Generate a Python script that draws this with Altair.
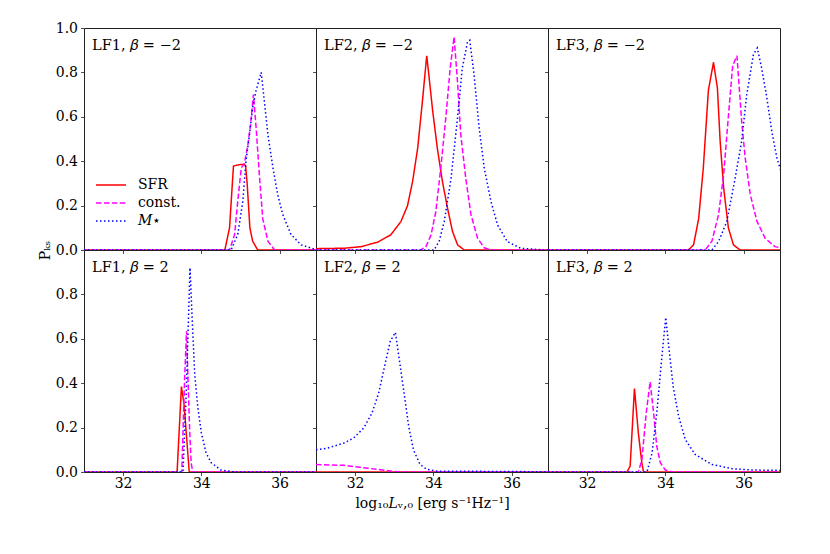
import altair as alt
import pandas as pd

SERIES = ["SFR", "const.", "𝑀⋆"]
COLORS = ["#ff0000", "#ff00ff", "#0000ff"]
DASHES = [[1, 0], [5.5, 2.4], [1.5, 2.5]]

PANEL_LABELS = ["LF1, 𝛽 = −2", "LF2, 𝛽 = −2", "LF3, 𝛽 = −2",
                "LF1, 𝛽 = 2", "LF2, 𝛽 = 2", "LF3, 𝛽 = 2"]

X_TITLE = "log₁₀𝐿ᵥ,₀ [erg s⁻¹Hz⁻¹]"
Y_TITLE = "Pₖₛ"
X_TICKS = [32, 34, 36]
Y_TICKS_TOP = [0.0, 0.2, 0.4, 0.6, 0.8, 1.0]
Y_TICKS_BOTTOM = [0.0, 0.2, 0.4, 0.6, 0.8]
X_DOMAIN = [31, 36.93]

# ---- LF1, beta = -2
lf1_m2_sfr_x = [31.0, 34.6, 34.72, 34.82, 34.9, 35.0, 35.1, 35.13, 35.17, 35.24, 35.31, 35.44, 37.0]
lf1_m2_sfr_y = [0, 0, 0.1, 0.378, 0.382, 0.385, 0.385, 0.38, 0.3, 0.1, 0.04, 0, 0]
lf1_m2_con_x = [31.0, 34.72, 34.85, 34.93, 35.02, 35.1, 35.19, 35.26, 35.33, 35.4, 35.49, 35.57, 35.7, 35.87, 37.0]
lf1_m2_con_y = [0, 0, 0.07, 0.22, 0.37, 0.39, 0.475, 0.57, 0.70, 0.55, 0.32, 0.14, 0.04, 0, 0]
lf1_m2_mst_x = [31.0, 34.76, 34.93, 35.06, 35.14, 35.23, 35.31, 35.4, 35.53, 35.61, 35.7, 35.83, 35.95, 36.08, 36.29, 36.55, 36.9, 37.0]
lf1_m2_mst_y = [0, 0, 0.07, 0.22, 0.4, 0.52, 0.64, 0.72, 0.80, 0.67, 0.52, 0.37, 0.25, 0.16, 0.07, 0.023, 0.003, 0]

# ---- LF2, beta = -2
lf2_m2_sfr_x = [31.0, 31.72, 32.15, 32.57, 32.91, 33.17, 33.34, 33.47, 33.6, 33.72, 33.83, 33.89, 33.98, 34.1, 34.23, 34.36, 34.49, 34.62, 34.79, 37.0]
lf2_m2_sfr_y = [0.006, 0.008, 0.015, 0.035, 0.068, 0.128, 0.2, 0.31, 0.46, 0.67, 0.875, 0.78, 0.63, 0.46, 0.31, 0.19, 0.083, 0.023, 0, 0]
lf2_m2_con_x = [31.0, 33.68, 33.81, 33.94, 34.06, 34.19, 34.32, 34.43, 34.53, 34.62, 34.7, 34.83, 34.96, 35.13, 35.3, 35.47, 37.0]
lf2_m2_con_y = [0, 0, 0.015, 0.068, 0.17, 0.37, 0.6, 0.82, 0.96, 0.75, 0.52, 0.32, 0.16, 0.053, 0.01, 0, 0]
lf2_m2_mst_x = [31.0, 34.02, 34.15, 34.28, 34.45, 34.62, 34.74, 34.87, 34.93, 35.04, 35.17, 35.3, 35.47, 35.64, 35.89, 36.23, 36.83, 37.0]
lf2_m2_mst_y = [0, 0, 0.04, 0.13, 0.32, 0.6, 0.82, 0.935, 0.945, 0.79, 0.55, 0.37, 0.22, 0.113, 0.038, 0.008, 0, 0]

# ---- LF3, beta = -2
lf3_m2_sfr_x = [31.0, 34.59, 34.72, 34.85, 34.97, 35.1, 35.23, 35.33, 35.4, 35.49, 35.61, 35.74, 35.91, 37.0]
lf3_m2_sfr_y = [0, 0, 0.023, 0.14, 0.37, 0.72, 0.845, 0.73, 0.49, 0.28, 0.1, 0.023, 0, 0]
lf3_m2_con_x = [31.0, 35.02, 35.19, 35.36, 35.49, 35.61, 35.72, 35.83, 35.95, 36.04, 36.17, 36.34, 36.55, 36.8, 37.0]
lf3_m2_con_y = [0, 0, 0.04, 0.16, 0.34, 0.6, 0.83, 0.875, 0.58, 0.415, 0.25, 0.13, 0.053, 0.015, 0.008]
lf3_m2_mst_x = [31.0, 35.19, 35.36, 35.57, 35.78, 35.95, 36.08, 36.25, 36.35, 36.46, 36.59, 36.72, 36.85, 37.0]
lf3_m2_mst_y = [0, 0, 0.038, 0.128, 0.32, 0.49, 0.70, 0.88, 0.91, 0.82, 0.69, 0.535, 0.415, 0.33]

# ---- LF1, beta = 2
lf1_p2_sfr_x = [31.0, 33.38, 33.49, 33.56, 33.69, 37.0]
lf1_p2_sfr_y = [0, 0, 0.385, 0.3, 0, 0]
lf1_p2_con_x = [31.0, 33.5, 33.57, 33.62, 33.66, 33.7, 33.74, 33.78, 37.0]
lf1_p2_con_y = [0, 0, 0.41, 0.635, 0.41, 0.19, 0.04, 0, 0]
lf1_p2_mst_x = [31.0, 33.53, 33.61, 33.71, 33.76, 33.83, 33.91, 34.0, 34.12, 34.25, 34.5, 34.85, 37.0]
lf1_p2_mst_y = [0, 0, 0.34, 0.92, 0.71, 0.44, 0.29, 0.175, 0.086, 0.042, 0.009, 0, 0]

# ---- LF2, beta = 2
lf2_p2_sfr_x = [31.0, 34.0, 37.0]
lf2_p2_sfr_y = [0, 0, 0]
lf2_p2_con_x = [31.0, 31.71, 32.13, 32.56, 32.98, 33.24, 37.0]
lf2_p2_con_y = [0.034, 0.03, 0.021, 0.012, 0.003, 0, 0]
lf2_p2_mst_x = [31.0, 31.28, 31.71, 31.96, 32.22, 32.43, 32.6, 32.77, 32.9, 33.03, 33.11, 33.24, 33.37, 33.49, 33.66, 33.83, 34.09, 35.11, 37.0]
lf2_p2_mst_y = [0.10, 0.107, 0.13, 0.153, 0.198, 0.265, 0.354, 0.49, 0.59, 0.629, 0.53, 0.37, 0.205, 0.1, 0.034, 0.012, 0.004, 0.003, 0.001]

# ---- LF3, beta = 2
lf3_p2_sfr_x = [31.0, 33.02, 33.1, 33.21, 33.31, 33.4, 33.44, 37.0]
lf3_p2_sfr_y = [0, 0, 0.027, 0.376, 0.175, 0.04, 0, 0]
lf3_p2_con_x = [31.0, 33.31, 33.4, 33.51, 33.61, 33.7, 33.78, 33.87, 34.0, 34.17, 37.0]
lf3_p2_con_y = [0, 0, 0.056, 0.265, 0.406, 0.265, 0.116, 0.042, 0.009, 0, 0]
lf3_p2_mst_x = [31.0, 33.53, 33.66, 33.78, 33.91, 34.01, 34.09, 34.2, 34.34, 34.51, 34.76, 35.19, 35.7, 36.2, 37.0]
lf3_p2_mst_y = [0, 0, 0.086, 0.265, 0.517, 0.696, 0.56, 0.384, 0.25, 0.146, 0.079, 0.034, 0.015, 0.009, 0.007]

PANEL_CURVES = [
    [(lf1_m2_sfr_x, lf1_m2_sfr_y), (lf1_m2_con_x, lf1_m2_con_y), (lf1_m2_mst_x, lf1_m2_mst_y)],
    [(lf2_m2_sfr_x, lf2_m2_sfr_y), (lf2_m2_con_x, lf2_m2_con_y), (lf2_m2_mst_x, lf2_m2_mst_y)],
    [(lf3_m2_sfr_x, lf3_m2_sfr_y), (lf3_m2_con_x, lf3_m2_con_y), (lf3_m2_mst_x, lf3_m2_mst_y)],
    [(lf1_p2_sfr_x, lf1_p2_sfr_y), (lf1_p2_con_x, lf1_p2_con_y), (lf1_p2_mst_x, lf1_p2_mst_y)],
    [(lf2_p2_sfr_x, lf2_p2_sfr_y), (lf2_p2_con_x, lf2_p2_con_y), (lf2_p2_mst_x, lf2_p2_mst_y)],
    [(lf3_p2_sfr_x, lf3_p2_sfr_y), (lf3_p2_con_x, lf3_p2_con_y), (lf3_p2_mst_x, lf3_p2_mst_y)],
]

FONT = "DejaVu Serif"
W, H = 232, 222

legend_props = dict(
    orient="none", legendX=16, legendY=146, title=None, padding=0,
    symbolType="M-1.5,0H1.5", symbolSize=400, symbolStrokeWidth=1.5,
    labelFont=FONT, labelFontSize=14, labelOffset=16, rowPadding=0,
    labelLimit=200,
)

panels = []
for i, (label, curves) in enumerate(zip(PANEL_LABELS, PANEL_CURVES)):
    row, col = divmod(i, 3)
    recs = []
    for s, (xs, ys) in zip(SERIES, curves):
        for xv, yv in zip(xs, ys):
            recs.append({"series": s, "L": xv, "P": yv})
    df = pd.DataFrame(recs)

    xaxis = alt.Axis(values=X_TICKS, labels=(row == 1), format="d", grid=False,
                     tickSize=3.5, labelPadding=1, titlePadding=6,
                     labelFontSize=14, titleFontSize=14)
    yaxis_kw = dict(values=(Y_TICKS_TOP if row == 0 else Y_TICKS_BOTTOM),
                    labels=(col == 0), format=".1f", grid=False, tickSize=3.5,
                    labelPadding=3, titlePadding=3, labelFontSize=14,
                    titleFontSize=14)
    if i == 0:
        yaxis_kw.update(titleY=H)
    yaxis = alt.Axis(**yaxis_kw)

    xtitle = X_TITLE if i == 4 else None
    ytitle = Y_TITLE if i == 0 else None

    if i == 0:
        color = alt.Color("series:N", scale=alt.Scale(domain=SERIES, range=COLORS),
                          legend=alt.Legend(**legend_props))
        dash = alt.StrokeDash("series:N", scale=alt.Scale(domain=SERIES, range=DASHES),
                              legend=alt.Legend(**legend_props))
    else:
        color = alt.Color("series:N", scale=alt.Scale(domain=SERIES, range=COLORS), legend=None)
        dash = alt.StrokeDash("series:N", scale=alt.Scale(domain=SERIES, range=DASHES), legend=None)

    lines = alt.Chart(df).mark_line(strokeWidth=1.5, clip=True).encode(
        x=alt.X("L:Q", scale=alt.Scale(domain=X_DOMAIN, nice=False, zero=False),
                axis=xaxis, title=xtitle),
        y=alt.Y("P:Q", scale=alt.Scale(domain=[0, 1.0], nice=False),
                axis=yaxis, title=ytitle),
        color=color,
        strokeDash=dash,
        detail="series:N",
    )
    text = alt.Chart(pd.DataFrame({"label": [label]})).mark_text(
        align="left", baseline="alphabetic", font=FONT, fontSize=14.5, color="black"
    ).encode(text="label:N", x=alt.value(8), y=alt.value(22))

    panels.append(alt.layer(lines, text).properties(width=W, height=H))

chart = alt.concat(*panels, columns=3, spacing=0, bounds="flush").resolve_scale(
    color="independent", strokeDash="independent"
).resolve_legend(
    color="independent", strokeDash="independent"
).properties(
    padding={"left": 29, "top": 12, "right": 5, "bottom": 5}
).configure(font=FONT).configure_view(
    stroke="#222", strokeWidth=1
).configure_axis(
    domain=False, tickColor="#222", tickWidth=0.8, labelColor="black",
    titleColor="black", labelFont=FONT, titleFont=FONT, titleFontWeight="normal"
)

chart.save("out.html", embed_options={"renderer": "svg", "actions": False})
